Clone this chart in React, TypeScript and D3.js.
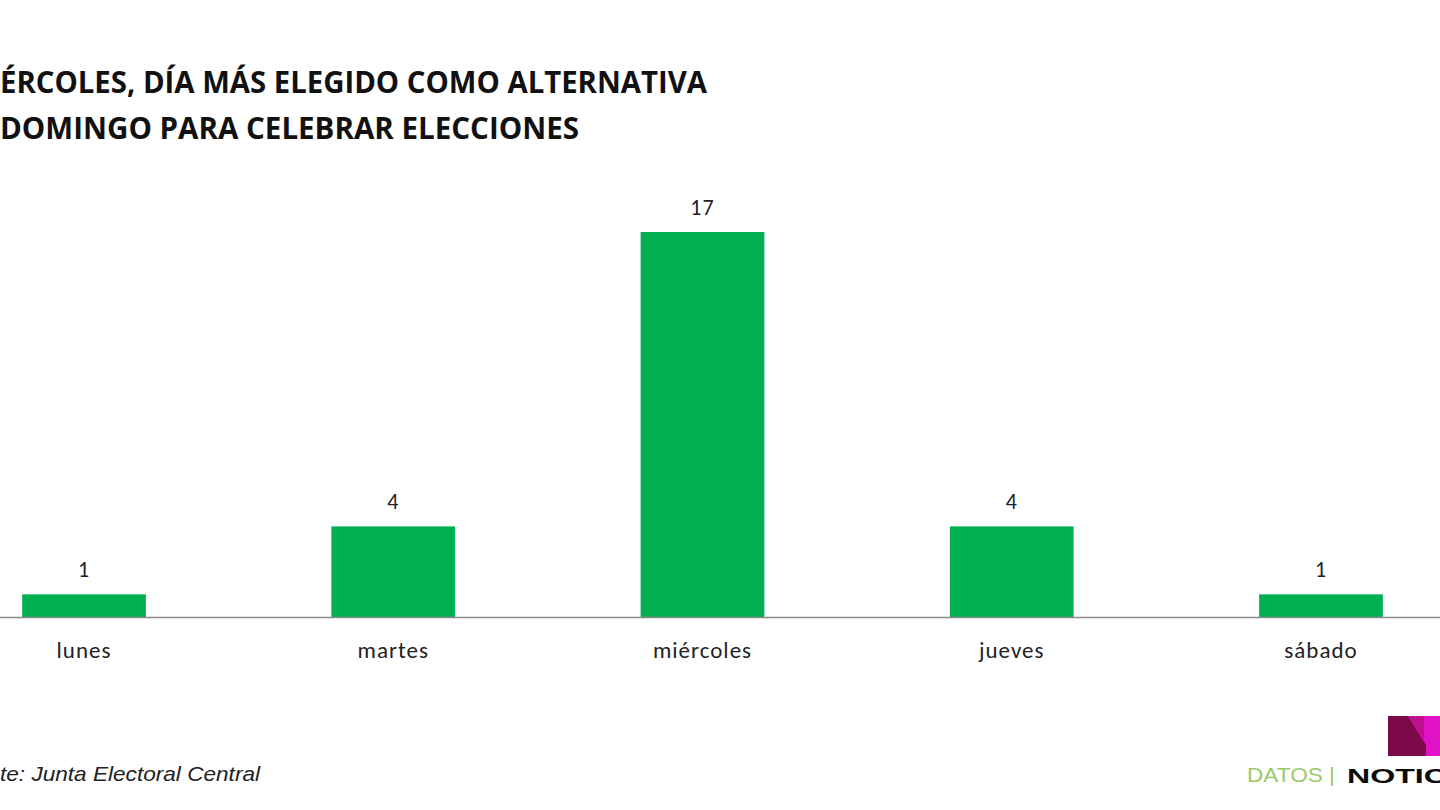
import React from "react";
import * as d3 from "d3";

const categories = ["lunes", "martes", "miércoles", "jueves", "sábado"];
const values = [1, 4, 17, 4, 1];
const titleLines = [
  "ÉRCOLES, DÍA MÁS ELEGIDO COMO ALTERNATIVA",
  "DOMINGO PARA CELEBRAR ELECCIONES",
];
const sourceText = "te: Junta Electoral Central";
const brandLeft = "DATOS |";
const brandRight = "NOTIC";

const W = 1440;
const H = 810;
const baseY = 617;

export default function App() {
  const x = d3
    .scaleBand<string>()
    .domain(categories)
    .range([-70.6, 1475.6])
    .paddingInner(0.6)
    .paddingOuter(0.3);
  const y = d3.scaleLinear().domain([0, 17]).range([baseY, 232]);
  const labelFont = "Carlito, Calibri, 'Open Sans', sans-serif";

  return (
    <svg
      width={W}
      height={H}
      style={{ position: "absolute", left: 0, top: 0, background: "#fff" }}
    >
      <rect x={0} y={0} width={W} height={H} fill="#ffffff" />
      <g fontFamily="'Open Sans', sans-serif" fontWeight={700} fill="#111">
        <text x={0} y={93} fontSize={30} textLength={707} lengthAdjust="spacingAndGlyphs">
          {titleLines[0]}
        </text>
        <text x={0} y={139} fontSize={30} textLength={579} lengthAdjust="spacingAndGlyphs">
          {titleLines[1]}
        </text>
      </g>

      {categories.map((c, i) => (
        <rect
          key={c}
          x={x(c)}
          y={y(values[i])}
          width={x.bandwidth()}
          height={baseY - y(values[i])}
          fill="#00B050"
        />
      ))}
      <line x1={0} x2={W} y1={baseY + 0.5} y2={baseY + 0.5} stroke="#8a8a8a" strokeWidth={1.5} />

      {categories.map((c, i) => (
        <text
          key={"v" + c}
          x={(x(c) as number) + x.bandwidth() / 2}
          y={y(values[i]) - 17}
          textAnchor="middle"
          fontFamily={labelFont}
          fontSize={22}
          letterSpacing={1}
          fill="#222"
        >
          {values[i]}
        </text>
      ))}
      {categories.map((c) => (
        <text
          key={"c" + c}
          x={(x(c) as number) + x.bandwidth() / 2}
          y={658}
          textAnchor="middle"
          fontFamily={labelFont}
          fontSize={23}
          letterSpacing={1}
          fill="#222"
        >
          {c}
        </text>
      ))}

      <text
        x={0}
        y={781}
        fontFamily="'Liberation Sans', Arial, sans-serif"
        fontStyle="italic"
        fontSize={21}
        fill="#222"
        textLength={260}
        lengthAdjust="spacingAndGlyphs"
      >
        {sourceText}
      </text>

      <text
        x={1247}
        y={782}
        fontFamily="'Liberation Sans', Arial, sans-serif"
        fontSize={19.5}
        fill="#9cc96b"
        textLength={88}
        lengthAdjust="spacingAndGlyphs"
      >
        {brandLeft}
      </text>
      <text
        x={1347}
        y={783}
        fontFamily="'Liberation Sans', Arial, sans-serif"
        fontWeight={700}
        fontSize={21}
        fill="#0a0a0a"
        textLength={100}
        lengthAdjust="spacingAndGlyphs"
      >
        {brandRight}
      </text>
      <g>
        <polygon points="1388,716 1440,716 1440,756 1388,756" fill="#e012c8" />
        <polygon points="1388,716 1408,716 1426,745 1426,756 1388,756" fill="#7c0a4a" />
        <polygon points="1408,716 1424,716 1424,740" fill="#c0108e" />
        <polygon points="1424,716 1440,716 1440,756 1426,756 1426,745 1424,740" fill="#e012c8" />
      </g>
    </svg>
  );
}
